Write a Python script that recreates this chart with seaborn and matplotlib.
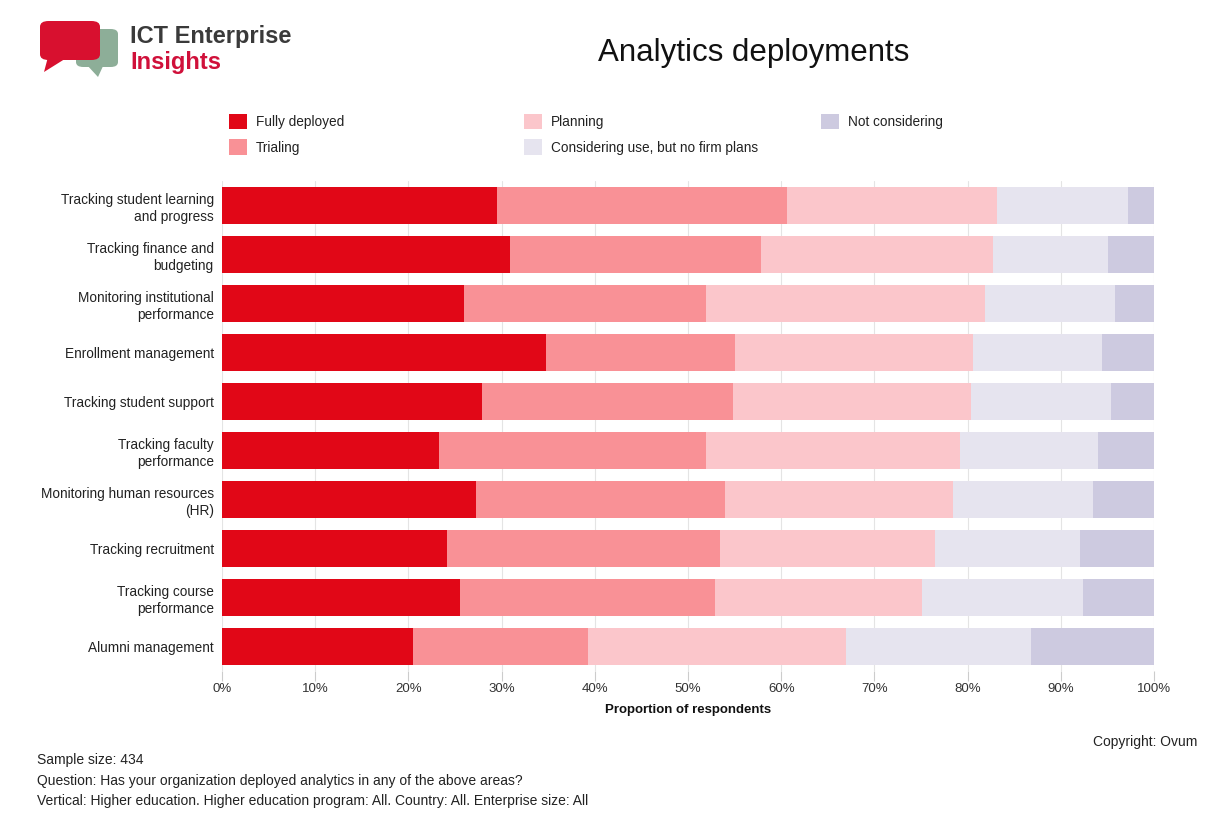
import numpy as np
import pandas as pd
import matplotlib
matplotlib.use("Agg")
import matplotlib.pyplot as plt
from matplotlib.patches import Patch, FancyBboxPatch, Polygon
import seaborn as sns

categories = [
    "Tracking student learning\nand progress",
    "Tracking finance and\nbudgeting",
    "Monitoring institutional\nperformance",
    "Enrollment management",
    "Tracking student support",
    "Tracking faculty\nperformance",
    "Monitoring human resources\n(HR)",
    "Tracking recruitment",
    "Tracking course\nperformance",
    "Alumni management",
]
fully_deployed = [29.5, 30.9, 26.0, 34.8, 27.9, 23.3, 27.2, 24.1, 25.5, 20.5]
trialing = [31.1, 26.9, 25.9, 20.2, 26.9, 28.6, 26.8, 29.3, 27.4, 18.8]
planning = [22.6, 24.9, 30.0, 25.6, 25.6, 27.3, 24.4, 23.1, 22.2, 27.6]
considering = [14.0, 12.4, 13.9, 13.8, 15.0, 14.8, 15.1, 15.6, 17.3, 19.9]
not_considering = [2.8, 4.9, 4.2, 5.6, 4.6, 6.0, 6.5, 7.9, 7.6, 13.2]

series_names = ["Fully deployed", "Trialing", "Planning",
                "Considering use, but no firm plans", "Not considering"]
series_values = [fully_deployed, trialing, planning, considering, not_considering]
colors = ["#E10717", "#F99196", "#FBC6CB", "#E6E4EF", "#CDCAE0"]
tick_labels = ["0%", "10%", "20%", "30%", "40%", "50%", "60%", "70%", "80%", "90%", "100%"]

sns.set_theme(style="white")
plt.rcParams["font.family"] = ["Liberation Sans", "DejaVu Sans"]

fig = plt.figure(figsize=(12.26, 8.22), dpi=100)
ax = fig.add_axes([222 / 1226, 1 - 671 / 822, (1154 - 222) / 1226, 490 / 822])

# cumulative sums for stacking
arr = np.array(series_values)
cum = np.cumsum(arr, axis=0)
for i in range(len(series_names) - 1, -1, -1):
    d = pd.DataFrame({"category": categories, "value": cum[i]})
    sns.barplot(data=d, x="value", y="category", orient="h", color=colors[i],
                saturation=1, width=0.76, ax=ax, zorder=3, linewidth=0)

ax.set_xlim(0, 100)
ax.set_ylim(9.5, -0.5)
ax.set_xticks(np.arange(0, 101, 10))
ax.set_xticklabels(tick_labels, fontsize=9.5, color="#333333")
ax.tick_params(axis="x", length=7, width=0.8, color="#cccccc", pad=2, bottom=True)
ax.tick_params(axis="y", length=0, pad=6, labelsize=9.8, labelcolor="#222222")
for lab in ax.get_yticklabels():
    lab.set_horizontalalignment("right")
    lab.set_multialignment("right")
    lab.set_linespacing(1.3)
ax.xaxis.grid(True, color="#e4e4e4", linewidth=0.8, zorder=0)
ax.yaxis.grid(False)
for s in ax.spines.values():
    s.set_visible(False)
ax.set_ylabel("")
ax.set_xlabel("Proportion of respondents", fontsize=9.5, fontweight="bold",
              color="#111111", labelpad=6)

# legend (three column blocks)
handles = [Patch(facecolor=c, edgecolor="none") for c in colors]
leg_kw = dict(frameon=False, fontsize=9.8, handlelength=1.35, handleheight=1.35,
              handletextpad=0.6, labelspacing=0.75, borderaxespad=0, borderpad=0,
              loc="upper left")
groups = [([0, 1], 229), ([2, 3], 524), ([4], 821)]
for idx, xpx in groups:
    lg = fig.legend([handles[i] for i in idx], [series_names[i] for i in idx],
                    bbox_to_anchor=(xpx / 1226, 1 - 114 / 822), **leg_kw)
    for t in lg.get_texts():
        t.set_color("#222222")

# title
fig.text(754 / 1226, 1 - 53 / 822, "Analytics deployments", fontsize=22.5,
         ha="center", va="center", color="#111111")

# logo
fig.patches.append(FancyBboxPatch((76 / 1226, 1 - 67 / 822), 42 / 1226, 38 / 822,
                                  boxstyle="round,pad=0,rounding_size=0.006",
                                  transform=fig.transFigure, facecolor="#8DAE98",
                                  edgecolor="none"))
fig.patches.append(Polygon([(86 / 1226, 1 - 64 / 822), (104 / 1226, 1 - 64 / 822),
                            (98 / 1226, 1 - 77 / 822)], closed=True,
                           transform=fig.transFigure, facecolor="#8DAE98", edgecolor="none"))
fig.patches.append(FancyBboxPatch((40 / 1226, 1 - 60 / 822), 60 / 1226, 39 / 822,
                                  boxstyle="round,pad=0,rounding_size=0.007",
                                  transform=fig.transFigure, facecolor="#D8102F",
                                  edgecolor="none"))
fig.patches.append(Polygon([(48 / 1226, 1 - 57 / 822), (68 / 1226, 1 - 57 / 822),
                            (44 / 1226, 1 - 72 / 822)], closed=True,
                           transform=fig.transFigure, facecolor="#D8102F", edgecolor="none"))
fig.text(130 / 1226, 1 - 36 / 822, "ICT Enterprise", fontsize=17, color="#3a3a3a",
         ha="left", va="center", fontweight="semibold")
fig.text(130 / 1226, 1 - 62 / 822, "Insights", fontsize=17, color="#D0103A",
         ha="left", va="center", fontweight="semibold")

# footer
fs = 10
fig.text(1197 / 1226, 1 - 742 / 822, "Copyright: Ovum", fontsize=fs, ha="right",
         va="center", color="#222222")
fig.text(37 / 1226, 1 - 760 / 822, "Sample size: 434", fontsize=fs, ha="left",
         va="center", color="#222222")
fig.text(37 / 1226, 1 - 781 / 822,
         "Question: Has your organization deployed analytics in any of the above areas?",
         fontsize=fs, ha="left", va="center", color="#222222")
fig.text(37 / 1226, 1 - 801 / 822,
         "Vertical: Higher education. Higher education program: All. Country: All. Enterprise size: All",
         fontsize=fs, ha="left", va="center", color="#222222")

fig.savefig("out.png", dpi=100, facecolor="white")
